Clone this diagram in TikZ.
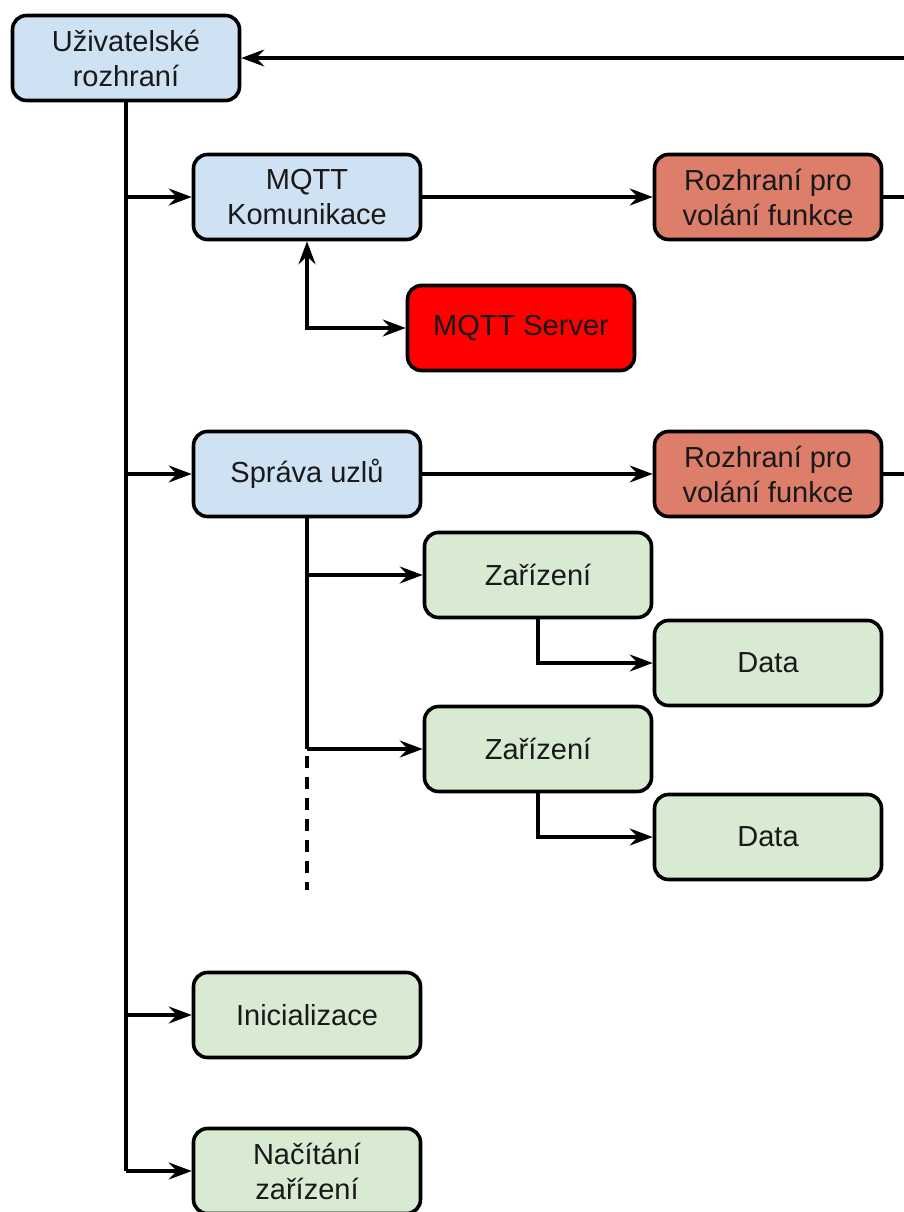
\documentclass[tikz,border=0pt]{standalone}
\usepackage{fontspec}
\setmainfont{Liberation Sans}
\usetikzlibrary{arrows.meta}
\definecolor{uiblue}{HTML}{CFE2F3}
\definecolor{nodegreen}{HTML}{D9EAD3}
\definecolor{apisalmon}{HTML}{DD7E6B}
\definecolor{srvred}{HTML}{FF0000}
\begin{document}
\begin{tikzpicture}[x=1pt,y=-1pt,
  box/.style={draw=black, line width=3.6pt, rounded corners=14pt,
    minimum width=227pt, minimum height=85pt, inner sep=0pt, align=center,
    font=\fontsize{29}{35}\selectfont, text=black!90},
  bluebox/.style={box, fill=uiblue},
  greenbox/.style={box, fill=nodegreen},
  apibox/.style={box, fill=apisalmon},
  serverbox/.style={box, fill=srvred},
  link/.style={line width=3.4pt, draw=black},
  arr/.style={link, -{Stealth[length=23pt,width=17pt,inset=8pt]}},
  biarr/.style={link, {Stealth[length=23pt,width=17pt,inset=8pt]}-{Stealth[length=23pt,width=17pt,inset=8pt]}}
]
\useasboundingbox (0,0) rectangle (904,1212);
\clip (0,0) rectangle (904,1212);

% boxes
\node[bluebox]   (ui)     at (126,58)   {Uživatelské\\rozhraní};
\node[bluebox]   (mqtt)   at (307,197)  {MQTT\\Komunikace};
\node[apibox]    (api1)   at (768,197)  {Rozhraní pro\\volání funkce};
\node[serverbox] (srv)    at (521,328)  {MQTT Server};
\node[bluebox]   (sprava) at (307,474)  {Správa uzlů};
\node[apibox]    (api2)   at (768,474)  {Rozhraní pro\\volání funkce};
\node[greenbox]  (dev1)   at (538,575)  {Zařízení};
\node[greenbox]  (data1)  at (768,663)  {Data};
\node[greenbox]  (dev2)   at (538,749)  {Zařízení};
\node[greenbox]  (data2)  at (768,837)  {Data};
\node[greenbox]  (init)   at (307,1015) {Inicializace};
\node[greenbox]  (load)   at (307,1171) {Načítání\\zařízení};

% loose ends running off the right border
\coordinate (topedge)  at (910,58);
\coordinate (api1edge) at (910,197);
\coordinate (api2edge) at (910,474);
\coordinate (dashtop)  at (307,756);
\coordinate (dashend)  at (307,890);

% feedback into the user interface
\draw[arr] (topedge) -- (ui.east);
\draw[link] (api1.east) -- (api1edge);
\draw[link] (api2.east) -- (api2edge);

% main trunk
\draw[link] (ui.south) -- (ui.south |- load.west);
\draw[arr] (ui.south |- mqtt.west) -- (mqtt.west);
\draw[arr] (ui.south |- sprava.west) -- (sprava.west);
\draw[arr] (ui.south |- init.west) -- (init.west);
\draw[arr] (ui.south |- load.west) -- (load.west);

% MQTT branch
\draw[arr] (mqtt.east) -- (api1.west);
\draw[biarr] (mqtt.south) |- (srv.west);

% node management branch
\draw[arr] (sprava.east) -- (api2.west);
\draw[link] (sprava.south) -- (sprava.south |- dev2.west);
\draw[arr] (sprava.south |- dev1.west) -- (dev1.west);
\draw[arr] (sprava.south |- dev2.west) -- (dev2.west);
\draw[link, dash pattern=on 12pt off 9pt] (dashtop) -- (dashend);
\draw[arr] (dev1.south) |- (data1.west);
\draw[arr] (dev2.south) |- (data2.west);
\end{tikzpicture}
\end{document}
